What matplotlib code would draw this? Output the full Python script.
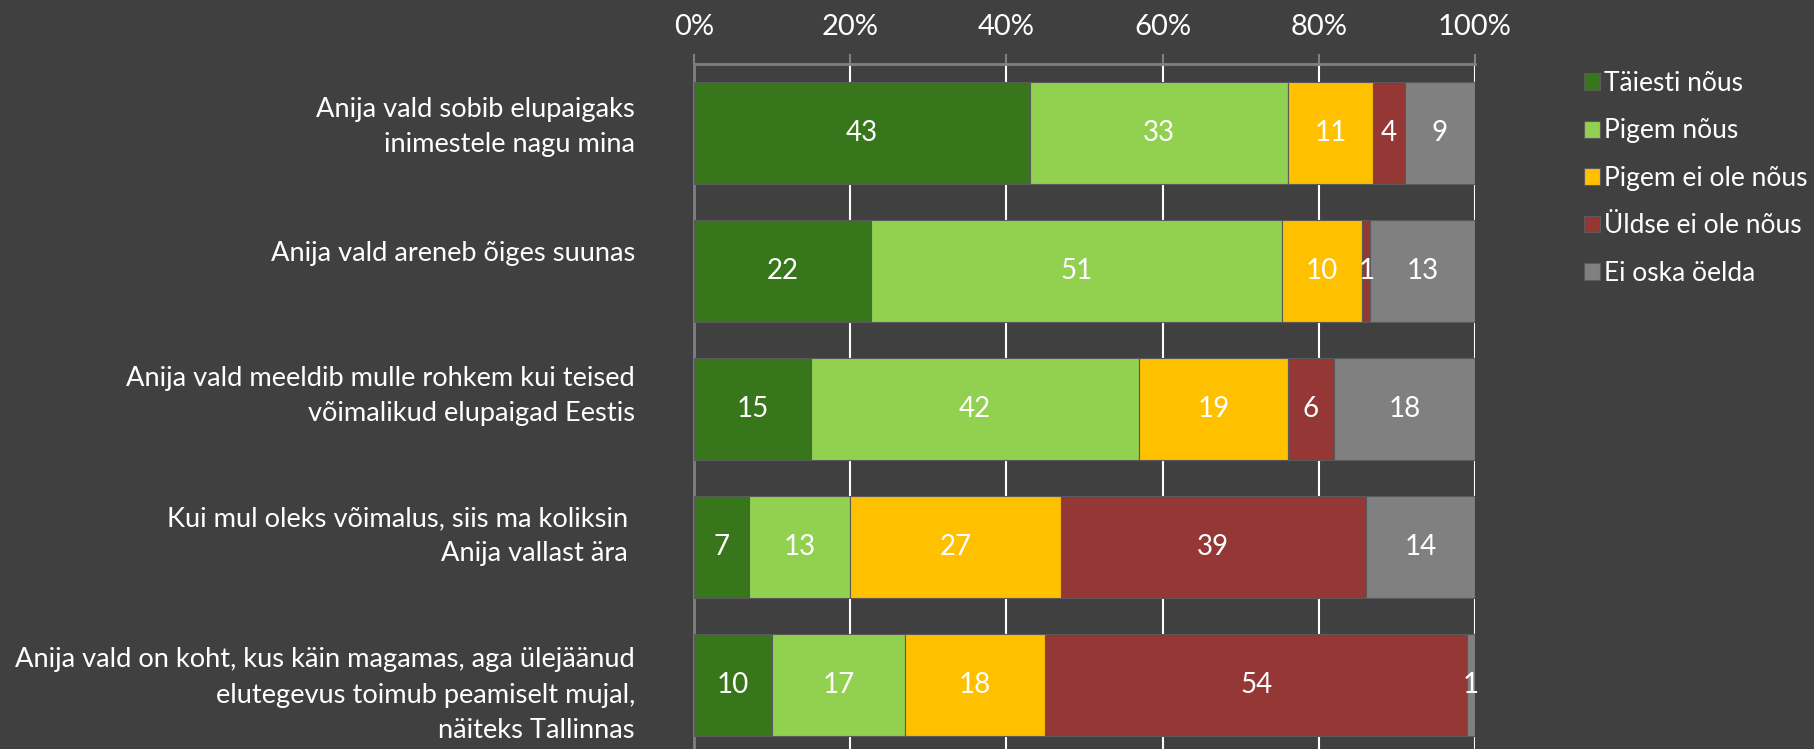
import matplotlib
matplotlib.use("Agg")
import matplotlib.pyplot as plt
import matplotlib.transforms as mtransforms
import numpy as np

plt.rcParams['font.family'] = ['Lato', 'DejaVu Sans']

categories = [
    "Anija vald sobib elupaigaks\ninimestele nagu mina",
    "Anija vald areneb õiges suunas",
    "Anija vald meeldib mulle rohkem kui teised\nvõimalikud elupaigad Eestis",
    "Kui mul oleks võimalus, siis ma koliksin \nAnija vallast ära ",
    "Anija vald on koht, kus käin magamas, aga ülejäänud\nelutegevus toimub peamiselt mujal,\nnäiteks Tallinnas",
]
series_names = ["Täiesti nõus", "Pigem nõus", "Pigem ei ole nõus", "Üldse ei ole nõus", "Ei oska öelda"]
taiesti = [43, 22, 15, 7, 10]
pigem = [33, 51, 42, 13, 17]
pigem_ei = [11, 10, 19, 27, 18]
uldse_ei = [4, 1, 6, 39, 54]
ei_oska = [9, 13, 18, 14, 1]
colors = ["#37761A", "#92D050", "#FFC000", "#953735", "#808080"]
xticks = [0, 20, 40, 60, 80, 100]
xtick_labels = ["0%", "20%", "40%", "60%", "80%", "100%"]

# vertical nudge of each category label (pixels, positive = up)
label_nudge_px = [6, 17, 13, 11, -10]

bg = "#404040"
W, H = 1815, 749
fig = plt.figure(figsize=(W / 100, H / 100), dpi=100, facecolor=bg)
ax = fig.add_axes([694 / W, -5 / H, (1475 - 694) / W, 690 / H], facecolor=bg)

data = np.array([taiesti, pigem, pigem_ei, uldse_ei, ei_oska], dtype=float)
totals = data.sum(axis=0)
pct = data / totals * 100
y = np.arange(len(categories))
left = np.zeros(len(categories))
for i, name in enumerate(series_names):
    ax.barh(y, pct[i], left=left, height=0.74, color=colors[i],
            edgecolor="#5a5a5a", linewidth=0.8, label=name, zorder=3)
    for j in range(len(categories)):
        ax.text(left[j] + pct[i][j] / 2, y[j], f"{int(data[i][j])}",
                ha="center", va="center", color="white", fontsize=20, zorder=4)
    left += pct[i]

ax.set_xlim(0, 100)
ax.set_ylim(len(categories) - 0.5, -0.5)
ax.xaxis.tick_top()
ax.set_xticks(xticks)
ax.set_xticklabels(xtick_labels, color="white", fontsize=21)
ax.tick_params(axis="x", direction="out", length=7, width=1.5, color="#808080", pad=10)
ax.set_yticks(y)
ax.set_yticklabels([])
ax.tick_params(axis="y", length=0)

base = ax.get_yaxis_transform()
for j, cat in enumerate(categories):
    tr = base + mtransforms.ScaledTranslation(-59 / 100, label_nudge_px[j] / 100, fig.dpi_scale_trans)
    ax.text(0, y[j], cat, transform=tr, ha="right", va="center", multialignment="right",
            color="white", fontsize=19.6, linespacing=1.5, clip_on=False)

ax.grid(axis="x", color="white", linewidth=1.5, zorder=1)
for s in ["right", "bottom"]:
    ax.spines[s].set_visible(False)
for s in ["top", "left"]:
    ax.spines[s].set_color("#808080")
    ax.spines[s].set_linewidth(2)

leg = fig.legend(*ax.get_legend_handles_labels(), loc="upper left",
                 bbox_to_anchor=(1584 / W, 1 - 71 / H), bbox_transform=fig.transFigure,
                 frameon=False, fontsize=19, labelcolor="white",
                 handlelength=0.6, handleheight=0.6, handletextpad=0.15,
                 labelspacing=0.85, borderaxespad=0, borderpad=0)

fig.savefig("out.png", dpi=100, facecolor=bg)
